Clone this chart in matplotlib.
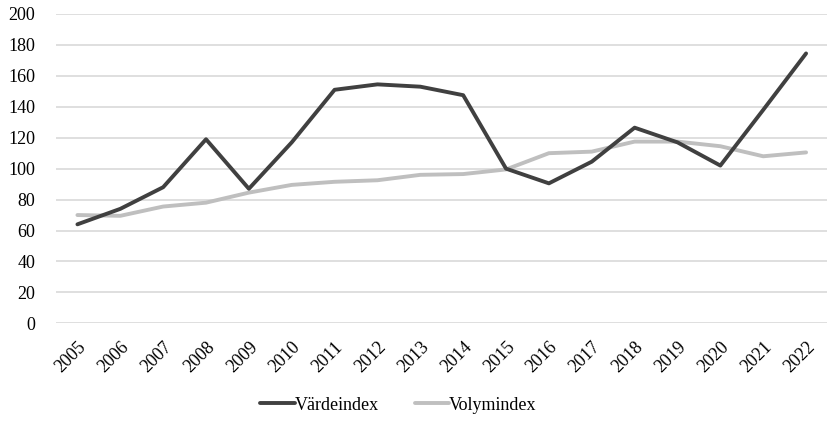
import matplotlib.pyplot as plt

# Data
years = [str(y) for y in range(2005, 2023)]
vardeindex = [64, 74, 88, 119, 87, 117, 151, 154.5, 153, 147.5,
              100, 90.5, 104.5, 126.5, 117, 102, 138, 174.5]
volymindex = [70, 69.5, 75.5, 78, 84.5, 89.5, 91.5, 92.5, 96, 96.5,
              99.5, 110, 111, 117.5, 117.5, 114.5, 108, 110.5]

plt.rcParams['font.family'] = ['Liberation Serif', 'DejaVu Serif']

fig = plt.figure(figsize=(8.27, 4.30), dpi=100)
ax = fig.add_axes([56 / 827, 1 - 323.3 / 430, (827.5 - 56) / 827, (323.3 - 14) / 430])

x = list(range(len(years)))
ax.plot(x, vardeindex, color='#404040', lw=2.8, label='Värdeindex', solid_capstyle='round', zorder=3)
ax.plot(x, volymindex, color='#bfbfbf', lw=2.8, label='Volymindex', solid_capstyle='round', zorder=2)

ax.set_xlim(-0.5, len(years) - 0.5)
ax.set_ylim(0, 200)
ax.set_yticks(range(0, 201, 20))
ax.set_xticks(x)
ax.set_xticklabels(years, rotation=45, ha='right', va='top', rotation_mode='anchor')
ax.tick_params(axis='both', length=0, labelsize=13, colors='black')
ax.tick_params(axis='y', pad=15)
ax.tick_params(axis='x', pad=11)

ax.grid(axis='y', color='#d9d9d9', lw=1.2)
ax.set_axisbelow(True)
for s in ax.spines.values():
    s.set_visible(False)

fig.legend(loc='center', bbox_to_anchor=(0.482, 1 - 405 / 430), ncol=2, frameon=False,
           fontsize=13, handlelength=1.9, handletextpad=0.0, columnspacing=2.0)

plt.savefig('out.png', dpi=100)
